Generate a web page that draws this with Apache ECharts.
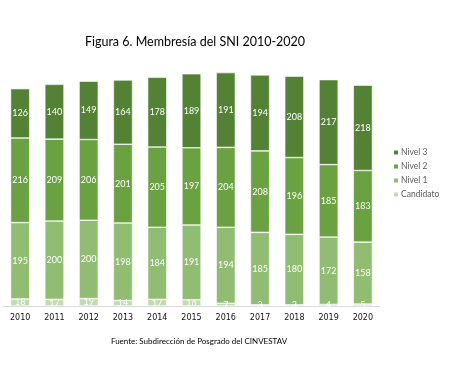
<!DOCTYPE html>
<html><head><meta charset="utf-8">
<script src="https://cdn.jsdelivr.net/npm/echarts@6/dist/echarts.min.js"></script>
<style>html,body{margin:0;padding:0;background:#fff}#c{width:465px;height:365px}</style>
</head><body><div id="c"></div>
<script>
const years = ['2010','2011','2012','2013','2014','2015','2016','2017','2018','2019','2020'];
const candidato = [18,17,19,14,17,16,7,3,3,4,5];
const nivel1 = [195,200,200,198,184,191,194,185,180,172,158];
const nivel2 = [216,209,206,201,205,197,204,208,196,185,183];
const nivel3 = [126,140,149,164,178,189,191,194,208,217,218];
const seriesNames = ['Candidato','Nivel 1','Nivel 2','Nivel 3'];
const colors = ['#c3dab2','#91bd72','#6aa241','#548235'];
const dataSets = [candidato, nivel1, nivel2, nivel3];
const font = 'Lato, "Open Sans", sans-serif';
const chart = echarts.init(document.getElementById('c'));
chart.setOption({
  animation:false,
  title:[
    {text:'Figura 6. Membresía del SNI 2010-2020', left:190, top:30, textAlign:'center',
     textStyle:{fontFamily:font, fontSize:12.5, fontWeight:'normal', color:'#000'}},
    {text:'Fuente: Subdirección de Posgrado del CINVESTAV', left:194, top:332, textAlign:'center',
     textStyle:{fontFamily:font, fontSize:8, fontWeight:'normal', color:'#000'}}
  ],
  legend:{
    orient:'vertical', left:387, top:143, itemWidth:6, itemHeight:6, itemGap:5,
    icon:'rect', data:['Nivel 3','Nivel 2','Nivel 1','Candidato'],
    textStyle:{fontFamily:font, fontSize:8.5, color:'#595959', padding:[0,0,0,-3]}
  },
  grid:{left:3, right:85, top:71, bottom:59},
  xAxis:{type:'category', data:years,
    axisLine:{lineStyle:{color:'#d9d9d9'}}, axisTick:{show:false},
    axisLabel:{fontFamily:'"DejaVu Sans", sans-serif', fontSize:8, color:'#111', margin:8}},
  yAxis:{type:'value', min:0, max:600, show:false, splitLine:{show:false}},
  series: dataSets.map((d,i)=>({
    name:seriesNames[i], type:'bar', stack:'t', data:d, barWidth:'56%',
    itemStyle:{color:colors[i], borderColor:'#fff', borderWidth:0.6},
    label:{show:true, position:'inside', color:'#fff', fontFamily:font, fontSize:9}
  }))
});
</script></body></html>
